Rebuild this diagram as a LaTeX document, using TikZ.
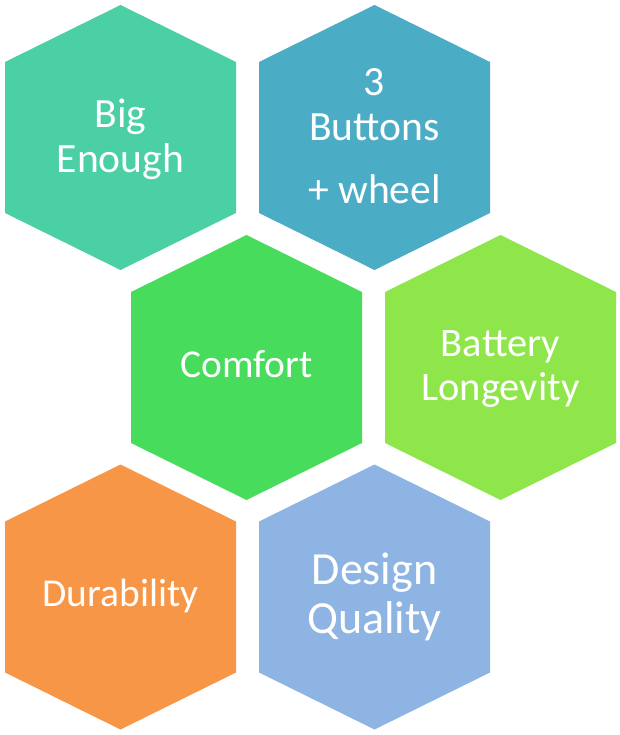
\documentclass[tikz,border=0pt]{standalone}
\usepackage{fontspec}
\setmainfont{Carlito}
\definecolor{cteal}{HTML}{4BCFA4}
\definecolor{caqua}{HTML}{4BACC6}
\definecolor{cgreen}{HTML}{48DC5C}
\definecolor{clime}{HTML}{8EE64A}
\definecolor{corange}{HTML}{F79646}
\definecolor{cblue}{HTML}{8EB4E3}
\newcommand{\hexshape}[4]{%
  \fill[#4] (#2,#3) ++(0,-132.5) coordinate (#1-t) -- ++(115.5,57) -- ++(0,151) -- ++(-115.5,57) -- ++(-115.5,-57) -- ++(0,-151) -- cycle;
  \coordinate (#1) at (#2,#3);}
\begin{document}
\begin{tikzpicture}[x=1pt,y=-1pt,
  txt/.style={text=white,anchor=base,inner sep=0pt,font=\fontsize{41.6}{44}\selectfont},
  txtm/.style={txt,font=\fontsize{39.5}{44}\selectfont},
  txtl/.style={txt,font=\fontsize{46}{49}\selectfont}]
\useasboundingbox (0,0) rectangle (620,735);
\hexshape{h1}{120.5}{137.5}{cteal}
\hexshape{h2}{374.5}{137.5}{caqua}
\hexshape{h3}{246.5}{367.5}{cgreen}
\hexshape{h4}{500.5}{367.5}{clime}
\hexshape{h5}{120.5}{597}{corange}
\hexshape{h6}{374.5}{597}{cblue}
\node[txt] (t1a) at (120.5,128) {Big};
\node[txt] (t1b) at (120.5,172.7) {Enough};
\node[txt] (t2a) at (374.5,96) {3};
\node[txt] (t2b) at (374.5,140.7) {Buttons};
\node[txt] (t2c) at (374.5,204) {+ wheel};
\node[txtm] (t3a) at (246.5,377.3) {Comfort};
\node[txt,font=\fontsize{40.5}{44}\selectfont] (t4a) at (500.5,356) {Battery};
\node[txt,font=\fontsize{40.5}{44}\selectfont] (t4b) at (500.5,400) {Longevity};
\node[txtm] (t5a) at (120.5,606.7) {Durability};
\node[txtl] (t6a) at (374.5,584.3) {Design};
\node[txtl] (t6b) at (374.5,633.3) {Quality};
\end{tikzpicture}
\end{document}
